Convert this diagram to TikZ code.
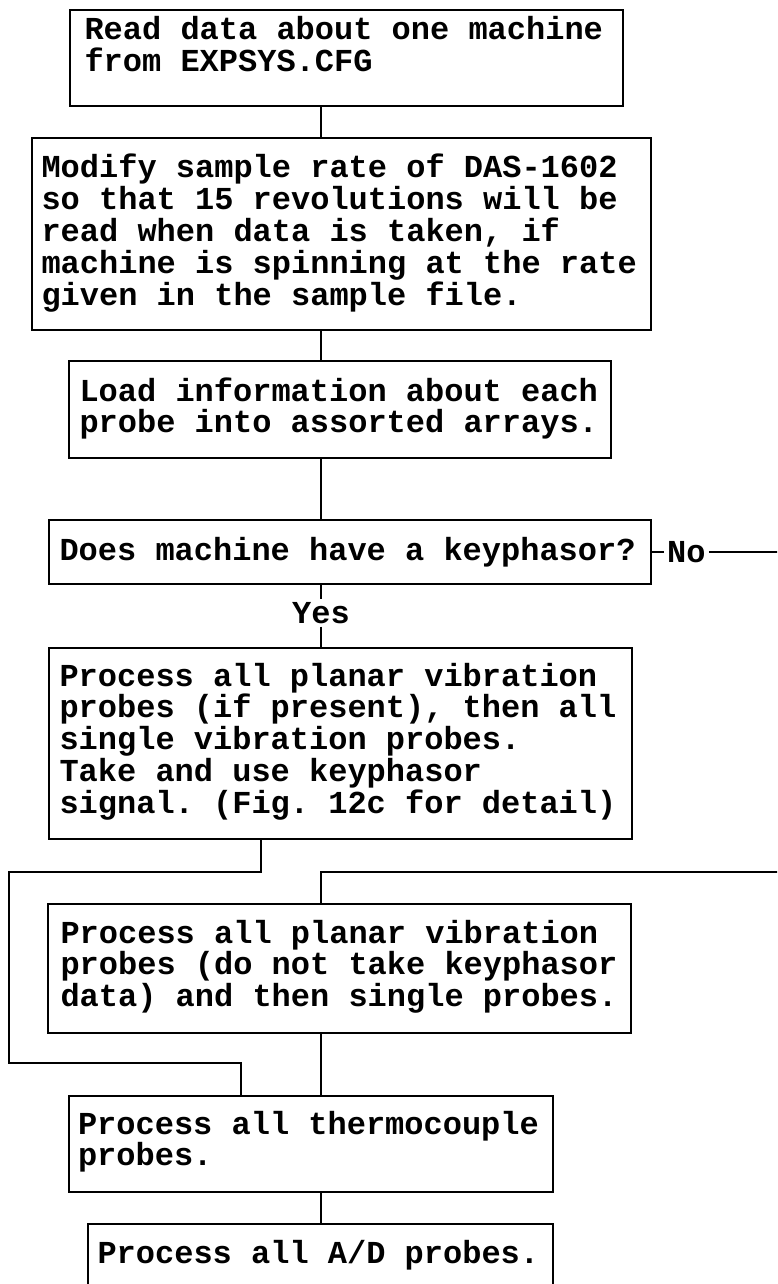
\documentclass[tikz,border=0pt]{standalone}
\usepackage{fontspec}
\newfontfamily\chartfont{Liberation Mono}
% invisible struts that fix the space above the first line and below the last
\newcommand\gapabove[1]{\rule{0pt}{#1pt}}
\newcommand\gapbelow[1]{\rule[-#1pt]{0pt}{0pt}}
\begin{document}
\begin{tikzpicture}[x=1pt,y=-1pt,
  every node/.style={font=\chartfont\bfseries\fontsize{32}{31.8}\selectfont},
  stepbox/.style={draw, line width=2pt, anchor=north west, inner ysep=0pt, align=left,
    execute at begin node={\spaceskip=0.6em\relax\xspaceskip=0.6em\relax\hyphenpenalty=10000\relax}},
  conn/.style={line width=2pt},
  flowlabel/.style={fill=white, inner sep=3pt}]
\useasboundingbox (0,0) rectangle (777,1284);
\clip (0,0) rectangle (777,1284);

% process boxes, placed by their top-left corners
\node[stepbox, inner xsep=14.5pt, text width=524pt] (b1) at (69,9)
  {\gapabove{30}Read data about one machine\\from EXPSYS.CFG\gapbelow{34}};
\node[stepbox, inner xsep=9.5pt, text width=600pt] (b2) at (31,137)
  {\gapabove{40}Modify sample rate of DAS-1602\\so that 15 revolutions will be\\read when data is taken, if\\machine is spinning at the rate\\given in the sample file.\gapbelow{25}};
\node[stepbox, inner xsep=10.5pt, text width=521pt] (b3) at (68,360)
  {\gapabove{40}Load information about each\\probe into assorted arrays.\gapbelow{25}};
\node[stepbox, inner xsep=10.5pt, text width=581pt] (b4) at (48,519)
  {\gapabove{40}Does machine have a keyphasor?\gapbelow{24}};
\node[stepbox, inner xsep=10.5pt, text width=562pt] (b5) at (48,647)
  {\gapabove{38}Process all planar vibration\\probes (if present), then all\\single vibration probes.\\Take and use keyphasor\\signal. (Fig. 12c for detail)\gapbelow{26}};
\node[stepbox, inner xsep=12.5pt, text width=558pt] (b6) at (47,903)
  {\gapabove{39}Process all planar vibration\\probes (do not take keyphasor\\data) and then single probes.\gapbelow{26}};
\node[stepbox, inner xsep=9pt, text width=466pt] (b7) at (68,1095)
  {\gapabove{38}Process all thermocouple\\probes.\gapbelow{26}};
\node[stepbox, inner xsep=9.5pt, text width=446pt] (b8) at (87,1223)
  {\gapabove{39}Process all A/D probes.\gapbelow{40}};

% branch labels
\node[flowlabel, anchor=base] (yes) at (321,623) {Yes};
\node[flowlabel, anchor=west] (no) at ([xshift=12pt]b4.east) {No};

% guide coordinates for the connectors
\coordinate (sx) at (321,0);
\coordinate (xa) at (261,0);
\coordinate (xb) at (241,0);
\coordinate (xl) at (9,0);
\coordinate (xr) at (782,0);
\coordinate (ya) at (0,872);
\coordinate (yb) at (0,1063);

% main spine
\draw[conn] (b1.south -| sx) -- (b2.north -| sx);
\draw[conn] (b2.south -| sx) -- (b3.north -| sx);
\draw[conn] (b3.south -| sx) -- (b4.north -| sx);
\draw[conn] (b4.south -| sx) -- (yes.north -| sx);
\draw[conn] (yes.south -| sx) -- (b5.north -| sx);
\draw[conn] (b6.south -| sx) -- (b7.north -| sx);
\draw[conn] (b7.south -| sx) -- (b8.north -| sx);

% keyphasor path skips box 6
\draw[conn] (b5.south -| xa) -- (xa |- ya) -- (xl |- ya) -- (xl |- yb)
  -- (xb |- yb) -- (b7.north -| xb);

% no-keyphasor path
\draw[conn] (b4.east) -- (no.west);
\draw[conn] (no.east) -- (no.east -| xr);
\draw[conn] (xr |- ya) -- (sx |- ya) -- (b6.north -| sx);
\end{tikzpicture}
\end{document}
